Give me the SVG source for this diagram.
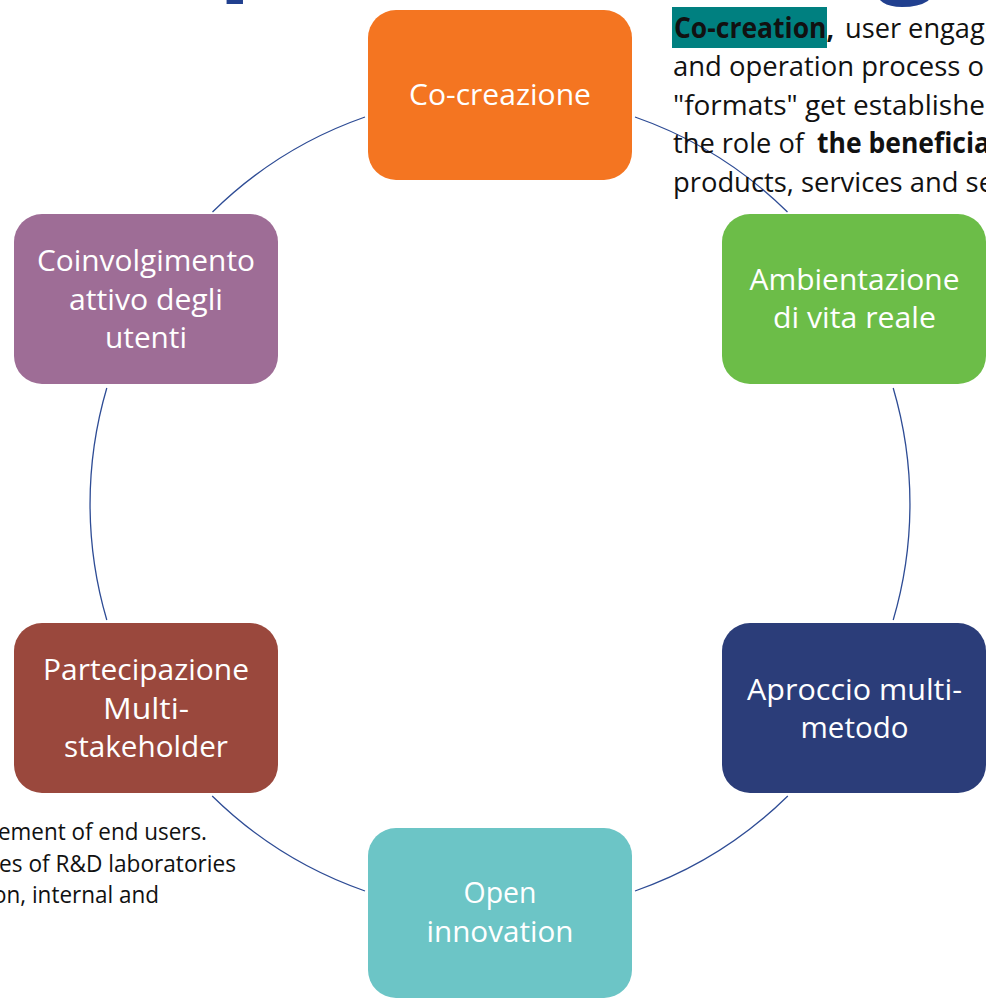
<svg xmlns="http://www.w3.org/2000/svg" width="986" height="1002" viewBox="0 0 986 1002">
<style>
.node text{font-family:"Open Sans","Noto Sans","Liberation Sans",sans-serif;font-size:29px;fill:#ffffff;text-anchor:middle;}
.body{font-family:"Open Sans","Noto Sans","Liberation Sans",sans-serif;font-size:28px;fill:#111111;}
.small{font-family:"Open Sans","Noto Sans","Liberation Sans",sans-serif;font-size:23px;fill:#111111;}
.b{font-weight:bold;}
.title{font-family:"Open Sans","Noto Sans","Liberation Sans",sans-serif;font-size:110px;font-weight:bold;fill:#21408F;}
.conn path{fill:none;stroke:#2E4C95;stroke-width:1.3;}
</style>
<rect width="986" height="1002" fill="#ffffff"/>

<g id="title-fragments">
<text class="title" x="218" y="-22">p</text>
<text class="title" x="876" y="-19" font-size="88">g</text>
</g>

<g id="connectors" class="conn">
<path d="M 212.5 212 A 410 410 0 0 1 365 117"/>
<path d="M 635 117 A 410 410 0 0 1 787.5 212"/>
<path d="M 893.2 388 A 410 410 0 0 1 893.2 620"/>
<path d="M 787.8 796 A 410 410 0 0 1 635 891"/>
<path d="M 365 891 A 410 410 0 0 1 212.2 796"/>
<path d="M 106.8 620 A 410 410 0 0 1 106.8 388"/>
</g>

<g id="node-cocreazione" class="node">
<rect x="368" y="10" width="264" height="170" rx="28" fill="#F47521"/>
<text x="500" y="105" textLength="182" lengthAdjust="spacingAndGlyphs">Co-creazione</text>
</g>

<g id="node-ambientazione" class="node">
<rect x="722" y="214" width="264" height="170" rx="28" fill="#6CBD48"/>
<text x="854.5" y="290" textLength="210" lengthAdjust="spacingAndGlyphs">Ambientazione</text>
<text x="854.5" y="328" textLength="163" lengthAdjust="spacingAndGlyphs">di vita reale</text>
</g>

<g id="node-aproccio" class="node">
<rect x="722" y="623" width="264" height="170" rx="28" fill="#2B3D79"/>
<text x="854.5" y="700" textLength="215" lengthAdjust="spacingAndGlyphs">Aproccio multi-</text>
<text x="854.5" y="738" textLength="108" lengthAdjust="spacingAndGlyphs">metodo</text>
</g>

<g id="node-open" class="node">
<rect x="368" y="828" width="264" height="170" rx="28" fill="#6CC5C6"/>
<text x="500" y="903" textLength="73" lengthAdjust="spacingAndGlyphs">Open</text>
<text x="500" y="942" textLength="147" lengthAdjust="spacingAndGlyphs">innovation</text>
</g>

<g id="node-partecipazione" class="node">
<rect x="14" y="623" width="264" height="170" rx="28" fill="#9A483D"/>
<text x="146" y="680" textLength="206" lengthAdjust="spacingAndGlyphs">Partecipazione</text>
<text x="146" y="719" textLength="86" lengthAdjust="spacingAndGlyphs">Multi-</text>
<text x="146" y="757" textLength="164" lengthAdjust="spacingAndGlyphs">stakeholder</text>
</g>

<g id="node-coinvolgimento" class="node">
<rect x="14" y="214" width="264" height="170" rx="28" fill="#9E6D96"/>
<text x="146" y="271" textLength="218" lengthAdjust="spacingAndGlyphs">Coinvolgimento</text>
<text x="146" y="310" textLength="154" lengthAdjust="spacingAndGlyphs">attivo degli</text>
<text x="146" y="348" textLength="82" lengthAdjust="spacingAndGlyphs">utenti</text>
</g>

<g id="text-right">
<rect x="672" y="7" width="155" height="41" fill="#008080"/>
<text class="body b" x="674" y="38" textLength="160" lengthAdjust="spacingAndGlyphs">Co-creation,</text>
<text class="body" x="845" y="38" textLength="155" lengthAdjust="spacingAndGlyphs">user engage</text>
<text class="body" x="673" y="76" textLength="311" lengthAdjust="spacingAndGlyphs">and operation process o</text>
<text class="body" x="673" y="115" textLength="312" lengthAdjust="spacingAndGlyphs">"formats" get establishe</text>
<text class="body" x="673" y="153" textLength="131" lengthAdjust="spacingAndGlyphs">the role of</text>
<text class="body b" x="817" y="153" textLength="173" lengthAdjust="spacingAndGlyphs">the beneficia</text>
<text class="body" x="673" y="192" textLength="321" lengthAdjust="spacingAndGlyphs">products, services and se</text>
</g>

<g id="text-left">
<text class="small" x="-2" y="840" textLength="209" lengthAdjust="spacingAndGlyphs">ement of end users.</text>
<text class="small" x="-1" y="872" textLength="237" lengthAdjust="spacingAndGlyphs">es of R&amp;D laboratories</text>
<text class="small" x="-7" y="903" textLength="166" lengthAdjust="spacingAndGlyphs">on, internal and</text>
</g>
</svg>
